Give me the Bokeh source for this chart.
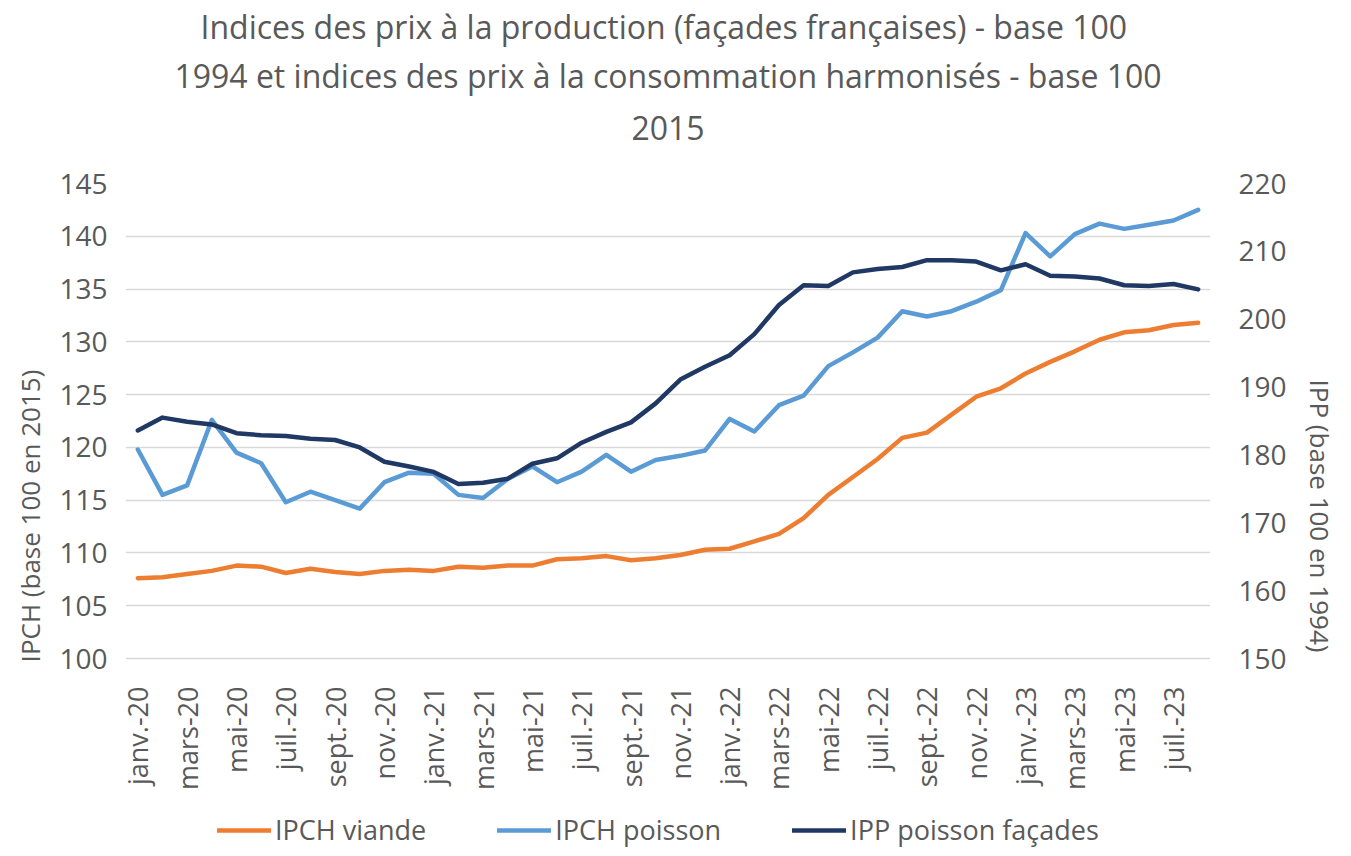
from bokeh.plotting import figure
from bokeh.models import (Range1d, LinearAxis, FixedTicker, Legend, LegendItem, Title)
from bokeh.embed import file_html
from bokeh.resources import INLINE
import math

months = []
mnames = ["janv.", "févr.", "mars", "avr.", "mai", "juin", "juil.", "août", "sept.", "oct.", "nov.", "déc."]
for yr in ["20", "21", "22", "23"]:
    for m in mnames:
        months.append(f"{m}-{yr}")
months = months[:44]

ipch_viande = [107.6, 107.7, 108.0, 108.3, 108.8, 108.7, 108.1, 108.5, 108.2, 108.0,
               108.3, 108.4, 108.3, 108.7, 108.6, 108.8, 108.8, 109.4, 109.5, 109.7,
               109.3, 109.5, 109.8, 110.3, 110.4, 111.1, 111.8, 113.3, 115.5, 117.2,
               118.9, 120.9, 121.4, 123.1, 124.8, 125.6, 127.0, 128.1, 129.1, 130.2,
               130.9, 131.1, 131.6, 131.8]
ipch_poisson = [119.8, 115.5, 116.4, 122.6, 119.5, 118.5, 114.8, 115.8, 115.0, 114.2,
                116.7, 117.6, 117.5, 115.5, 115.2, 117.0, 118.2, 116.7, 117.7, 119.3,
                117.7, 118.8, 119.2, 119.7, 122.7, 121.5, 124.0, 124.9, 127.7, 129.0,
                130.4, 132.9, 132.4, 132.9, 133.8, 134.9, 140.3, 138.1, 140.2, 141.2,
                140.7, 141.1, 141.5, 142.5]
ipp_facades = [183.6, 185.5, 184.9, 184.5, 183.2, 182.9, 182.8, 182.4, 182.2, 181.1,
               179.0, 178.3, 177.5, 175.7, 175.9, 176.5, 178.7, 179.5, 181.8, 183.4,
               184.8, 187.6, 191.1, 193.0, 194.7, 197.8, 202.1, 205.0, 204.9, 206.9,
               207.4, 207.7, 208.7, 208.7, 208.5, 207.2, 208.1, 206.4, 206.3, 206.0,
               205.0, 204.9, 205.2, 204.4]

left_ticks = [100, 105, 110, 115, 120, 125, 130, 135, 140, 145]
right_ticks = [150, 160, 170, 180, 190, 200, 210, 220]
title_lines = ["Indices des prix à la production (façades françaises) -  base 100",
               "1994 et indices des prix à la consommation harmonisés - base 100",
               "2015"]

FONT = "Open Sans"
GREY = "#595959"
x = list(range(len(months)))

# the frame is extended below 100 so that the month labels and the legend sit inside it
FRAME_H = 665
PLOT_H = 475
y_lo = 100 - 45 * (FRAME_H - PLOT_H) / PLOT_H
y2_lo = 220 - 70 * FRAME_H / PLOT_H

p = figure(frame_width=1085, frame_height=FRAME_H, output_backend="svg", toolbar_location=None,
           x_range=Range1d(-0.5, len(months) - 0.5), y_range=Range1d(y_lo, 145),
           min_border_left=125, min_border_right=125, min_border_top=0,
           min_border_bottom=0)
p.outline_line_color = None
p.background_fill_color = "white"
p.border_fill_color = "white"
p.extra_y_ranges = {"ipp": Range1d(y2_lo, 220)}

# title: three centred lines
def style_title(t, standoff, size="32px"):
    t.align = "center"
    t.text_font = FONT
    t.text_font_size = size
    t.text_font_style = "normal"
    t.text_color = GREY
    t.standoff = standoff

p.title.text = title_lines[0]
style_title(p.title, 4)
spacer = Title(text=" "); style_title(spacer, 26, "1px")
t3 = Title(text=title_lines[2]); style_title(t3, 30)
t2 = Title(text=title_lines[1]); style_title(t2, 4)
p.add_layout(spacer, "above")
p.add_layout(t3, "above")
p.add_layout(t2, "above")

# x axis drawn at y = 100
p.xaxis.fixed_location = 100
p.xaxis.ticker = FixedTicker(ticks=x[::2])
p.xaxis.major_label_overrides = {i: months[i] for i in x[::2]}
p.xaxis.major_label_orientation = math.pi / 2
p.xaxis.axis_line_color = None
p.xaxis.major_tick_line_color = None
p.xaxis.minor_tick_line_color = None
p.xaxis.major_label_text_font = FONT
p.xaxis.major_label_text_font_size = "27px"
p.xaxis.major_label_text_color = GREY
p.xaxis.major_label_standoff = 22
p.xgrid.grid_line_color = None

p.yaxis.ticker = FixedTicker(ticks=left_ticks)
p.yaxis.bounds = (100, 145)
p.yaxis.axis_line_color = None
p.yaxis.major_tick_line_color = None
p.yaxis.minor_tick_line_color = None
p.yaxis.major_label_text_font = FONT
p.yaxis.major_label_text_font_size = "28px"
p.yaxis.major_label_text_color = GREY
p.yaxis.major_label_standoff = 12
p.yaxis.axis_label = "IPCH (base 100 en 2015)"
p.yaxis.axis_label_text_font = FONT
p.yaxis.axis_label_text_font_size = "26px"
p.yaxis.axis_label_text_font_style = "normal"
p.yaxis.axis_label_text_color = GREY
p.yaxis.axis_label_standoff = 8
p.ygrid.ticker = FixedTicker(ticks=left_ticks)
p.ygrid.grid_line_color = "#D9D9D9"
p.ygrid.grid_line_width = 1.5

ax2 = LinearAxis(y_range_name="ipp", ticker=FixedTicker(ticks=right_ticks), bounds=(150, 220))
ax2.axis_line_color = None
ax2.major_tick_line_color = None
ax2.minor_tick_line_color = None
ax2.major_label_text_font = FONT
ax2.major_label_text_font_size = "28px"
ax2.major_label_text_color = GREY
ax2.major_label_standoff = 22
ax2.axis_label = "IPP (base 100 en 1994)"
ax2.axis_label_text_font = FONT
ax2.axis_label_text_font_size = "26px"
ax2.axis_label_text_font_style = "normal"
ax2.axis_label_text_color = GREY
ax2.axis_label_standoff = 12
p.add_layout(ax2, "right")

r1 = p.line(x, ipch_viande, line_color="#ED7D31", line_width=4.5, line_cap="round", line_join="round")
r2 = p.line(x, ipch_poisson, line_color="#5B9BD5", line_width=4.5, line_cap="round", line_join="round")
r3 = p.line(x, ipp_facades, line_color="#203864", line_width=4.5, line_cap="round", line_join="round",
            y_range_name="ipp")

legend = Legend(items=[LegendItem(label="IPCH viande", renderers=[r1]),
                       LegendItem(label="IPCH poisson", renderers=[r2]),
                       LegendItem(label="IPP poisson façades", renderers=[r3])],
                orientation="horizontal", location=(92, 0))
legend.label_text_font = FONT
legend.label_text_font_size = "27px"
legend.label_text_color = GREY
legend.border_line_color = None
legend.background_fill_alpha = 0
legend.glyph_width = 54
legend.label_standoff = 4
legend.spacing = 71
legend.margin = 0
legend.padding = 0
p.add_layout(legend, "center")

open("out.html", "w").write(file_html(p, INLINE))
